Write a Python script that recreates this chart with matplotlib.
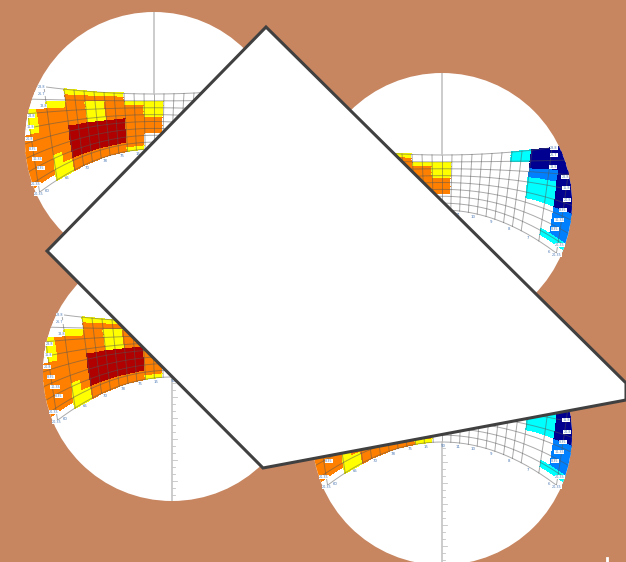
import numpy as np
import matplotlib
matplotlib.use('Agg')
import matplotlib.pyplot as plt
from matplotlib.colors import ListedColormap, BoundaryNorm
from matplotlib.patches import Circle, Polygon

# cell levels, one string per row, 28 columns (. y o r c b n)
CELL_ROWS = [
    ".....yyyyyy..........ccnnnnn",
    ".....oooooo..........ccnnnnn",
    "...yyooyyooyyyy........nnnnn",
    ".yoooooyyooooyy........bbbnn",
    ".yoooooyyooooyy........cccnn",
    "ooooorrrrrroooo........cccnn",
    "ooooorrrrrroooo...........bb",
    "oooyorrrrrroo.............bb",
    "oooyyoooooooo............ccc",
    "...yyooooooyy...............",
]
LEVELS = {'.': 0, 'y': 1, 'o': 2, 'r': 3, 'c': 4, 'b': 5, 'n': 6}
COLORS = ['#ffffff', '#ffff00', '#ff8000', '#b00000', '#00ffff', '#0080ff', '#000090']

ROW_EDGES = [0, .07, .15, .22, .33, .44, .58, .72, .86, .94, 1]
COL_EDGES = np.arange(-14, 15) * 10.0
GRID_ROWS = np.arange(0, 9) / 8
GRID_COLS = [-130, -110, -90, -80, -70, -60, -50, -40, -30, -20, -10, 0,
             10, 20, 30, 40, 50, 60, 70, 80, 90, 110, 130]

SIDE_LABELS = ['28.8', '26.7', '13.8', '28.8', '15.8', '20.8', '8.35', '10.35', '8.35', '20.35', '20.35']
BOTTOM_LABELS = ['90', '11', '10', '9', '8', '7', '6']
LEFT_LABELS = ['15', '75', '78', '70', '65', '60']

# layout of the tiny labels, relative to a panel origin
SIDE_Y = [87, 94, 106, 116, 127, 139, 149, 159, 168, 184, 194]
SIDE_DX = [112, 112, 111, 123, 124, 125, 121, 117, 113, 118, 115]
BOTTOM_DX = [1, 16, 31, 49, 67, 86, 107]
LEFT_DX = [-16, -32, -49, -67, -87, -107]

BG = '#c78560'
LINE = '#404040'
LABEL = '#4a78b5'

# circle cx, cy, r, grid dy, axis goes up or down
PANELS = [
    (154, 141, 129, 0, 'up'),
    (442, 203, 130, 61, 'up'),
    (172, 372, 129, 228, 'down'),
    (442, 435, 130, 293, 'down'),
]
SHEET = [(266, 27), (626, 383), (626, 400), (263, 468), (47, 251)]


def grid_xy(dx, v):
    """lens grid, dx px from the centre line, v 0..1 from top to bottom"""
    dx = np.asarray(dx, dtype=float)
    v = np.asarray(v, dtype=float)
    x = dx * (1 - 0.12 * v)
    top = 94 - 0.0006 * x ** 2
    bottom = 149 + 0.0033 * x ** 2
    return x, top + (bottom - top) * v


def draw_panel(ax, cx, cy, r, dy, axis_dir):
    disc = Circle((cx, cy), r, facecolor='white', edgecolor='none', zorder=1)
    ax.add_patch(disc)

    D, V = np.meshgrid(COL_EDGES, ROW_EDGES)
    X, Y = grid_xy(D, V)
    C = np.array([[LEVELS[ch] for ch in row] for row in CELL_ROWS])
    mesh = ax.pcolormesh(X + cx, Y + dy, C, cmap=ListedColormap(COLORS),
                         norm=BoundaryNorm(np.arange(-0.5, 7.5), 7),
                         edgecolors='face', linewidth=0.3, zorder=2)
    mesh.set_clip_path(disc)

    # grid lines
    dense = np.linspace(-140, 140, 141)
    for v in GRID_ROWS:
        x, y = grid_xy(dense, np.full_like(dense, v))
        ln, = ax.plot(x + cx, y + dy, color='#555555', lw=0.7, alpha=0.5, zorder=3)
        ln.set_clip_path(disc)
    vs = np.linspace(0, 1, 20)
    for d in GRID_COLS:
        x, y = grid_xy(np.full_like(vs, d), vs)
        ln, = ax.plot(x + cx, y + dy, color='#555555', lw=0.7, alpha=0.5, zorder=3)
        ln.set_clip_path(disc)

    # centre axis with ticks
    if axis_dir == 'up':
        y0, y1 = cy - r, 94 + dy
    else:
        y0, y1 = 149 + dy, cy + r
    ln, = ax.plot([cx, cx], [y0, y1], color='#c4c4c4', lw=1.2, zorder=3)
    ln.set_clip_path(disc)
    if axis_dir == 'down':
        for i, ty in enumerate(np.arange(y0 + 6, y1, 7)):
            w = 5 if i % 3 == 2 else 3
            ln, = ax.plot([cx, cx + w], [ty, ty], color='#c4c4c4', lw=0.6, zorder=3)
            ln.set_clip_path(disc)

    # tiny edge labels
    for sign in (-1, 1):
        for lab, sy, sdx in zip(SIDE_LABELS, SIDE_Y, SIDE_DX):
            t = ax.text(cx + sign * sdx, sy + dy, lab, fontsize=2.4, color=LABEL,
                        ha='center', va='center', zorder=4,
                        bbox=dict(facecolor='white', edgecolor='none', pad=0.3))
            t.set_clip_path(disc)
    for lab, d in zip(BOTTOM_LABELS + LEFT_LABELS, BOTTOM_DX + LEFT_DX):
        t = ax.text(cx + d, 149 + 0.0033 * d ** 2 + dy + 4, lab, fontsize=2.8,
                    color=LABEL, ha='center', va='center', zorder=4)
        t.set_clip_path(disc)


def main():
    fig = plt.figure(figsize=(6.26, 5.62), dpi=100, facecolor=BG)
    ax = fig.add_axes([0, 0, 1, 1])
    ax.set_xlim(0, 626)
    ax.set_ylim(562, 0)
    ax.axis('off')

    for cx, cy, r, dy, axis_dir in PANELS:
        draw_panel(ax, cx, cy, r, dy, axis_dir)

    ax.add_patch(Polygon(SHEET, closed=True, facecolor='white', edgecolor=LINE,
                         lw=2.2, zorder=6, joinstyle='miter'))
    ax.plot([607, 607], [558, 562], color='white', lw=2, zorder=7)

    fig.savefig('out.png', dpi=100, facecolor=BG)
    plt.close(fig)


if __name__ == '__main__':
    main()
